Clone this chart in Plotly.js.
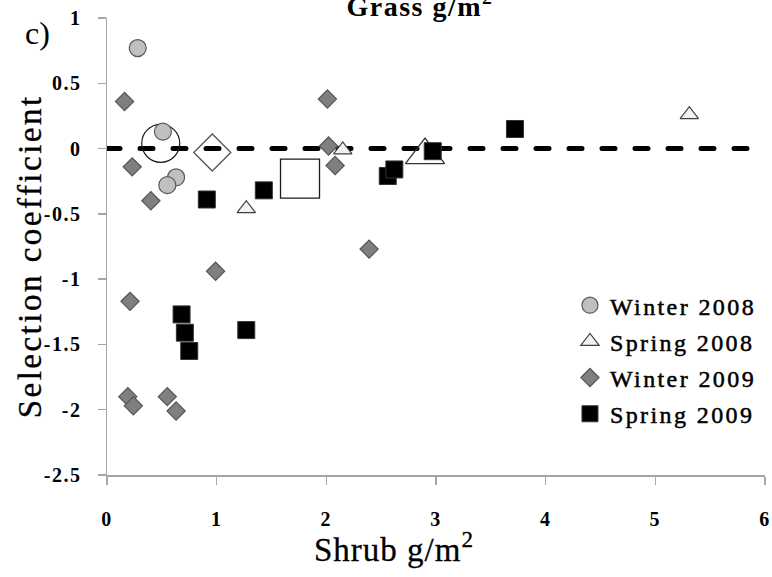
<!DOCTYPE html>
<html>
<head>
<meta charset="utf-8">
<script src="https://cdn.plot.ly/plotly-3.0.1.min.js"></script>
<style>
  html, body { margin: 0; padding: 0; background: #fff; }
  #chart { width: 772px; height: 577px; }
  .scatterlayer .js-line { stroke-linecap: round; }
  g.xtick text, g.ytick text { letter-spacing: 1.5px; }
  .legendtext { stroke: #000; stroke-width: 0.5px; letter-spacing: 2.4px; }
  g.annotation[data-index="0"] text { letter-spacing: 1.5px; }
  g.annotation[data-index="2"] text { letter-spacing: 2.5px; stroke: #000; stroke-width: 0.3px; }
  g.annotation[data-index="3"] text { letter-spacing: 1px; stroke: #000; stroke-width: 0.3px; }
</style>
</head>
<body>
<div id="chart"></div>
<script>
// ---- data ----
const seriesNames = ["Winter 2008", "Spring 2008", "Winter 2009", "Spring 2009"];

const winter2008X = [0.28, 0.51, 0.63, 0.55];
const winter2008Y = [0.77, 0.13, -0.22, -0.28];

const spring2008X = [1.27, 2.15, 5.31];
const spring2008Y = [-0.46, -0.01, 0.26];

const winter2009X = [0.16, 0.23, 0.40, 2.01, 2.02, 2.08, 2.39, 0.99, 0.21, 0.19, 0.24, 0.55, 0.63];
const winter2009Y = [0.36, -0.14, -0.40, 0.38, 0.02, -0.13, -0.77, -0.94, -1.17, -1.90, -1.97, -1.90, -2.01];

const spring2009X = [0.91, 1.43, 2.56, 2.62, 2.97, 3.72, 0.68, 0.71, 0.75, 1.27];
const spring2009Y = [-0.39, -0.32, -0.21, -0.16, -0.02, 0.15, -1.27, -1.41, -1.55, -1.39];

// season means (large open markers)
const meanWinter2008 = [0.49, 0.04];
const meanSpring2008 = [2.90, -0.05];
const meanWinter2009 = [0.96, -0.03];
const meanSpring2009 = [1.76, -0.23];

const refLineX = [0, 6];
const refLineY = [0, 0];

const xTickVals = [0, 1, 2, 3, 4, 5, 6];
const xTickText = ["0", "1", "2", "3", "4", "5", "6"];
const yTickVals = [1, 0.5, 0, -0.5, -1, -1.5, -2, -2.5];
const yTickText = ["1", "0.5", "0", "-0.5", "-1", "-1.5", "-2", "-2.5"];

// ---- traces ----
const serifFont = "Liberation Serif, serif";
const tickFont = {family: serifFont, size: 20, color: "#000", weight: "bold"};

const traces = [
  {x: refLineX, y: refLineY, mode: "lines", showlegend: false, hoverinfo: "skip",
   line: {color: "#000", width: 5, dash: "13px,20px"}},
  {x: [meanWinter2008[0]], y: [meanWinter2008[1]], mode: "markers", showlegend: false,
   marker: {symbol: "circle", size: 38, color: "rgba(0,0,0,0)", line: {color: "#1a1a1a", width: 1.2}}},
  {x: [meanWinter2009[0]], y: [meanWinter2009[1]], mode: "markers", showlegend: false,
   marker: {symbol: "diamond", size: 28.5, color: "rgba(0,0,0,0)", line: {color: "#555", width: 1.3}}},
  {x: [meanSpring2009[0]], y: [meanSpring2009[1]], mode: "markers", showlegend: false,
   marker: {symbol: "square", size: 39, color: "#fff", line: {color: "#1a1a1a", width: 1.3}}},
  {x: [meanSpring2008[0]], y: [meanSpring2008[1]], mode: "markers", showlegend: false,
   marker: {symbol: "triangle-up", size: 34, color: "rgba(0,0,0,0)", line: {color: "#333", width: 1.3}}},
  {x: winter2008X, y: winter2008Y, name: seriesNames[0], mode: "markers", legendgroup: "a",
   marker: {symbol: "circle", size: 17, color: "#c0c0c0", line: {color: "#595959", width: 1.2}}},
  {x: spring2008X, y: spring2008Y, name: seriesNames[1], mode: "markers", legendgroup: "b",
   marker: {symbol: "triangle-up", size: 16, color: "#f2f2f2", line: {color: "#404040", width: 1.2}}},
  {x: winter2009X, y: winter2009Y, name: seriesNames[2], mode: "markers", legendgroup: "c",
   marker: {symbol: "diamond", size: 14, color: "#7f7f7f", line: {color: "#555", width: 1.2}}},
  {x: spring2009X, y: spring2009Y, name: seriesNames[3], mode: "markers", legendgroup: "d",
   marker: {symbol: "square", size: 17, color: "#000", line: {color: "#333", width: 1}}}
];

const layout = {
  width: 772, height: 577,
  margin: {l: 107, r: 7, t: 18, b: 102, pad: 0},
  paper_bgcolor: "#fff", plot_bgcolor: "#fff",
  showlegend: true,
  legend: {x: 0.7036, y: 0.42, xanchor: "left", yanchor: "top",
           font: {family: serifFont, size: 24, color: "#000"},
           bgcolor: "rgba(0,0,0,0)", tracegroupgap: 2, itemclick: false},
  xaxis: {range: [0, 6], tickvals: xTickVals, ticktext: xTickText, showgrid: false, zeroline: false,
          showline: true, linecolor: "#a6a6a6", linewidth: 1.5, ticks: "outside", ticklen: 8,
          tickcolor: "#a6a6a6", tickwidth: 1.5, tickfont: tickFont, ticklabelstandoff: 17, fixedrange: true},
  yaxis: {range: [-2.5, 1], tickvals: yTickVals, ticktext: yTickText, showgrid: false, zeroline: false,
          showline: true, linecolor: "#a6a6a6", linewidth: 1.5, ticks: "outside", ticklen: 8,
          tickcolor: "#a6a6a6", tickwidth: 1.5, tickfont: tickFont, ticklabelstandoff: 12, fixedrange: true},
  annotations: [
    {text: "Grass g/m<sup>2</sup>", xref: "paper", yref: "paper", x: 0.476, y: 1.030,
     xanchor: "center", yanchor: "middle", showarrow: false,
     font: {family: serifFont, size: 28, color: "#000", weight: "bold"}},
    {text: "c)", xref: "paper", yref: "paper", x: -0.106, y: 0.967,
     xanchor: "center", yanchor: "middle", showarrow: false,
     font: {family: serifFont, size: 32, color: "#000"}},
    {text: "Selection coefficient", xref: "paper", yref: "paper", x: -0.117, y: 0.479,
     xanchor: "center", yanchor: "middle", showarrow: false, textangle: -90,
     font: {family: serifFont, size: 33, color: "#000"}},
    {text: "Shrub g/m<sup>2</sup>", xref: "paper", yref: "paper", x: 0.436, y: -0.1575,
     xanchor: "center", yanchor: "middle", showarrow: false,
     font: {family: serifFont, size: 33, color: "#000"}}
  ]
};

Plotly.newPlot("chart", traces, layout, {staticPlot: true, displayModeBar: false});
</script>
</body>
</html>
